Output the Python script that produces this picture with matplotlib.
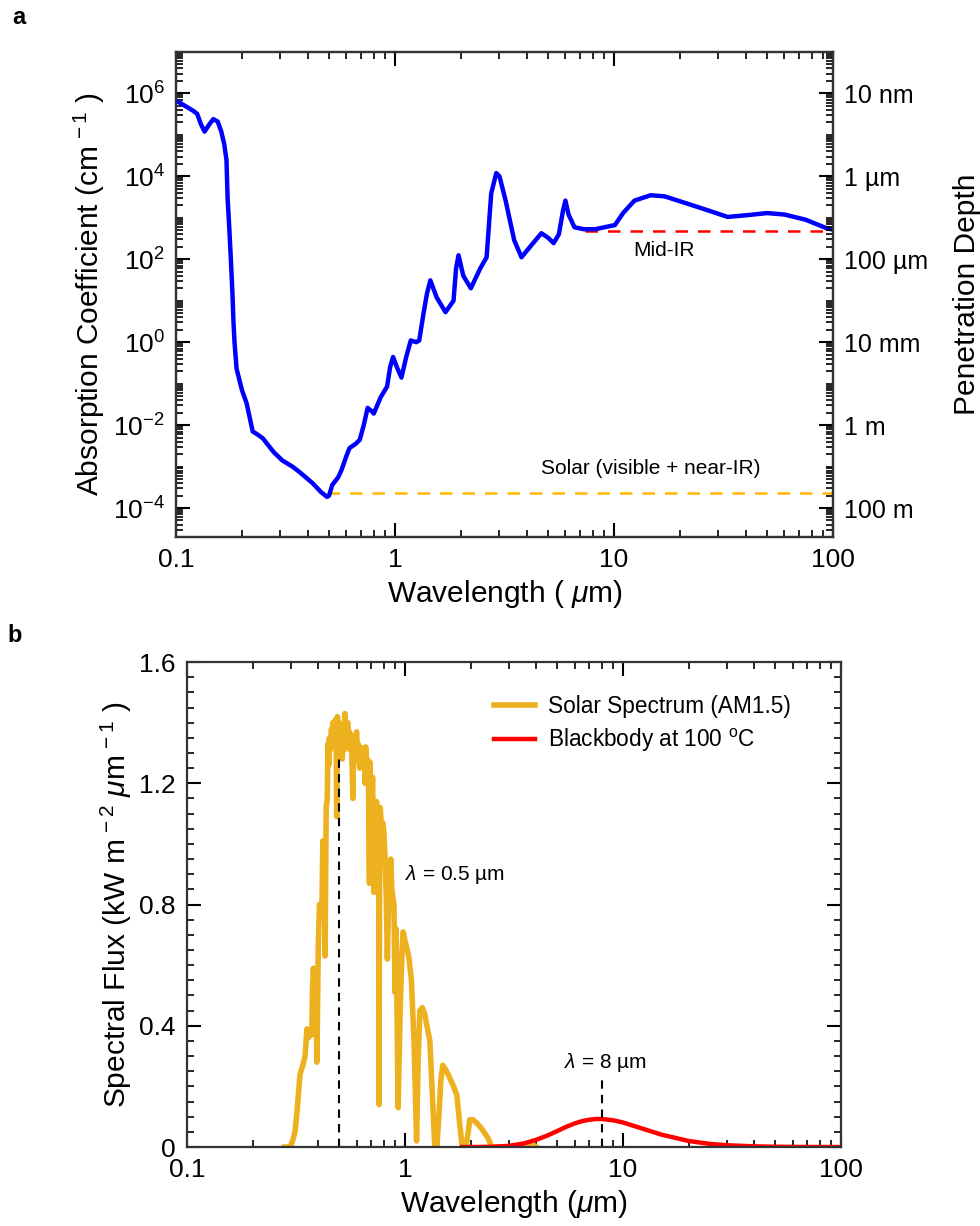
import numpy as np
import matplotlib
matplotlib.use('Agg')
import matplotlib.pyplot as plt
from matplotlib.ticker import LogLocator, MultipleLocator, NullFormatter

plt.rcParams['font.family'] = ['Liberation Sans', 'DejaVu Sans']
plt.rcParams['mathtext.fontset'] = 'custom'
plt.rcParams['mathtext.rm'] = 'Liberation Sans'
plt.rcParams['mathtext.it'] = 'Liberation Sans:italic'
plt.rcParams['axes.linewidth'] = 1.6
plt.rcParams['axes.edgecolor'] = '#333333'

# ---- panel a: absorption coefficient of water ----
abs_wl = [0.100, 0.110, 0.120, 0.125, 0.130, 0.135, 0.142, 0.148, 0.155, 0.161,
          0.166, 0.170, 0.172, 0.175, 0.178, 0.181, 0.183, 0.185, 0.189, 0.200,
          0.210, 0.224, 0.235, 0.249, 0.280, 0.306, 0.340, 0.366, 0.420, 0.460,
          0.490, 0.500, 0.517, 0.550, 0.570, 0.600, 0.620, 0.660, 0.690, 0.720,
          0.750, 0.780, 0.800, 0.860, 0.920, 0.950, 0.980, 1.02, 1.07, 1.12,
          1.18, 1.25, 1.29, 1.35, 1.40, 1.45, 1.55, 1.70, 1.85, 1.90,
          1.95, 2.05, 2.22, 2.45, 2.62, 2.75, 2.90, 3.00, 3.20, 3.50,
          3.78, 4.20, 4.66, 5.00, 5.30, 5.60, 5.85, 6.00, 6.20, 6.60,
          7.30, 8.20, 10.1, 11.0, 12.4, 14.7, 17.0, 21.6, 27.0, 33.0,
          40.0, 50.0, 60.0, 75.0, 93.5, 100.0]
abs_coef = [6.8e5, 5.0e5, 3.8e5, 3.2e5, 1.8e5, 1.2e5, 1.8e5, 2.4e5, 2.1e5, 1.2e5,
            6.0e4, 2.5e4, 3.0e3, 6.0e2, 1.0e2, 15, 3.0, 1.0, 0.23, 0.07,
            0.034, 7e-3, 6e-3, 4.8e-3, 2.2e-3, 1.4e-3, 1.0e-3, 7.4e-4, 4e-4, 2.4e-4,
            1.85e-4, 2.0e-4, 3.6e-4, 5.5e-4, 8.3e-4, 1.8e-3, 2.8e-3, 3.5e-3, 4.4e-3, 1.0e-2,
            2.6e-2, 2.2e-2, 1.9e-2, 4.7e-2, 8.5e-2, 0.25, 0.44, 0.25, 0.14, 0.4,
            1.1, 1.0, 1.1, 5, 15, 31, 12, 5.3, 10, 60,
            125, 40, 20, 60, 112, 3.9e3, 1.2e4, 1.0e4, 2.6e3, 2.9e2,
            112, 220, 425, 330, 245, 400, 1.5e3, 2.6e3, 1.2e3, 590,
            530, 530, 670, 1.3e3, 2.6e3, 3.5e3, 3.3e3, 2.2e3, 1.5e3, 1.05e3,
            1.15e3, 1.3e3, 1.2e3, 900, 560, 520]

solar_band = [0.49, 100]
solar_level = 2.3e-4
midir_band = [7.4, 100]
midir_level = 480

depth_ticks = [1e6, 1e4, 1e2, 1e0, 1e-2, 1e-4]
depth_labels = ['10 nm', '1 µm', '100 µm', '10 mm', '1 m', '100 m']

# ---- panel b: AM1.5 solar spectrum and 100 C blackbody ----
sun_wl = [0.280, 0.297, 0.305, 0.313, 0.320, 0.330, 0.340, 0.348, 0.355, 0.360,
          0.370, 0.374, 0.376, 0.380, 0.385, 0.390, 0.394, 0.397, 0.400, 0.405,
          0.410, 0.416, 0.420, 0.425, 0.430, 0.435, 0.440, 0.443, 0.447, 0.450,
          0.455, 0.460, 0.464, 0.467, 0.471, 0.475, 0.480, 0.484, 0.486, 0.488,
          0.490, 0.495, 0.500, 0.505, 0.510, 0.515, 0.520, 0.525, 0.530, 0.535,
          0.540, 0.547, 0.551, 0.555, 0.560, 0.565, 0.570, 0.577, 0.581, 0.585,
          0.590, 0.600, 0.605, 0.610, 0.615, 0.620, 0.625, 0.630, 0.638, 0.645,
          0.650, 0.656, 0.660, 0.665, 0.672, 0.680, 0.687, 0.690, 0.695, 0.700,
          0.705, 0.710, 0.715, 0.720, 0.725, 0.730, 0.735, 0.740, 0.745, 0.750,
          0.757, 0.760, 0.765, 0.770, 0.780, 0.790, 0.800, 0.810, 0.820, 0.830,
          0.840, 0.860, 0.870, 0.890, 0.900, 0.910, 0.930, 0.950, 0.970, 0.980,
          1.00, 1.04, 1.07, 1.10, 1.13, 1.15, 1.17, 1.20, 1.23, 1.26,
          1.30, 1.33, 1.37, 1.40, 1.43, 1.46, 1.49, 1.55, 1.60, 1.67,
          1.73, 1.78, 1.83, 1.90, 1.95, 1.98, 2.05, 2.13, 2.25, 2.40,
          2.50, 2.70, 3.00, 3.30, 3.50, 3.80, 4.00]
sun_flux = [0.0, 0.0, 0.02, 0.05, 0.12, 0.24, 0.27, 0.30, 0.39, 0.36,
            0.38, 0.37, 0.51, 0.59, 0.50, 0.58, 0.28, 0.45, 0.66, 0.80,
            0.79, 0.80, 1.01, 0.98, 0.63, 1.12, 1.15, 1.33, 1.26, 1.35,
            1.31, 1.38, 1.33, 1.40, 1.34, 1.39, 1.41, 1.30, 1.09, 1.35,
            1.42, 1.36, 1.40, 1.33, 1.37, 1.28, 1.34, 1.31, 1.43, 1.36,
            1.39, 1.40, 1.33, 1.37, 1.31, 1.36, 1.30, 1.15, 1.33, 1.30,
            1.35, 1.37, 1.29, 1.33, 1.27, 1.25, 1.32, 1.28, 1.31, 1.27,
            1.31, 1.20, 1.32, 1.25, 1.28, 1.22, 0.87, 1.27, 1.18, 1.22,
            1.15, 1.22, 1.05, 0.84, 1.10, 1.13, 1.08, 1.14, 1.09, 1.10,
            1.05, 0.14, 0.95, 1.12, 1.05, 1.07, 1.04, 0.95, 0.83, 0.62,
            0.80, 0.95, 0.85, 0.80, 0.51, 0.72, 0.13, 0.45, 0.65, 0.71,
            0.68, 0.63, 0.55, 0.35, 0.02, 0.30, 0.45, 0.46, 0.44, 0.40,
            0.35, 0.20, 0.0, 0.0, 0.10, 0.22, 0.27, 0.25, 0.23, 0.20,
            0.17, 0.08, 0.0, 0.0, 0.05, 0.09, 0.09, 0.08, 0.06, 0.03,
            0.0, 0.0, 0.0, 0.005, 0.01, 0.01, 0.0]

bb_wl = [1.83, 2.0, 2.5, 3.0, 3.5, 4.0, 4.5, 5.0, 5.5, 6.0,
         6.5, 7.0, 7.5, 8.0, 9.0, 10.0, 12.0, 15.0, 20.0, 25.0,
         30.0, 40.0, 50.0, 70.0, 100.0]
bb_flux = [0.0, 0.0001, 0.0008, 0.004, 0.0117, 0.024, 0.038, 0.053, 0.067, 0.078,
           0.0856, 0.090, 0.0926, 0.0926, 0.0883, 0.081, 0.063, 0.041, 0.020, 0.0104,
           0.0059, 0.0023, 0.001, 0.0003, 0.0001]

peak_sun = 0.5
peak_bb = 8.0

fig = plt.figure(figsize=(9.8, 12.26), dpi=100)

# ================= panel a =================
ax1 = fig.add_axes([0.1796, 0.562, 0.6704, 0.3956])
ax1.plot(abs_wl, abs_coef, color='#0000FF', linewidth=3.2, zorder=3)
ax1.plot(solar_band, [solar_level, solar_level], '--', color='#FFB800', linewidth=1.8, dashes=(5, 4))
ax1.plot(midir_band, [midir_level, midir_level], '--', color='#FF0000', linewidth=1.8, dashes=(5, 4))
ax1.set_xscale('log')
ax1.set_yscale('log')
ax1.set_xlim(0.1, 100)
ax1.set_ylim(2e-5, 1e7)
ax1.set_xticks([0.1, 1, 10, 100])
ax1.set_xticklabels(['0.1', '1', '10', '100'])
ax1.xaxis.set_minor_locator(LogLocator(base=10, subs=np.arange(2, 10), numticks=20))
ax1.xaxis.set_minor_formatter(NullFormatter())
ax1.set_yticks([1e-4, 1e-2, 1e0, 1e2, 1e4, 1e6])
ax1.yaxis.set_minor_locator(LogLocator(base=10, subs=np.arange(1, 10), numticks=30))
ax1.yaxis.set_minor_formatter(NullFormatter())
ax1.tick_params(which='major', direction='in', length=10, width=1.5, labelsize=19, top=True, pad=8)
ax1.tick_params(which='minor', direction='in', length=5, width=1.2, top=True)
ax1.set_xlabel('Wavelength ( $\\mu$m)', fontsize=21.5)
ax1.set_ylabel('Absorption Coefficient (cm$^{\\,-1}$ )', fontsize=21.5)
ax1.text(14.7, 9.2e-4, 'Solar (visible + near-IR)', fontsize=15, ha='center', va='center')
ax1.text(17, 165, 'Mid-IR', fontsize=15, ha='center', va='center')

ax1r = ax1.twinx()
ax1r.set_yscale('log')
ax1r.set_ylim(ax1.get_ylim())
ax1r.set_yticks(depth_ticks)
ax1r.set_yticklabels(depth_labels)
ax1r.yaxis.set_minor_locator(LogLocator(base=10, subs=np.arange(1, 10), numticks=30))
ax1r.yaxis.set_minor_formatter(NullFormatter())
ax1r.tick_params(which='major', direction='in', length=10, width=1.5, labelsize=18, pad=8)
ax1r.tick_params(which='minor', direction='in', length=5, width=1.2)
ax1r.set_ylabel('Penetration Depth', fontsize=21.5, labelpad=18)

# ================= panel b =================
ax2 = fig.add_axes([0.1908, 0.0644, 0.6674, 0.3956])
ax2.plot(sun_wl, sun_flux, color='#EDB120', linewidth=4.0, label='Solar Spectrum (AM1.5)')
ax2.plot(bb_wl, bb_flux, color='#FF0000', linewidth=3.2, label='Blackbody at 100 $^{\\mathrm{o}}$C')
ax2.plot([peak_sun, peak_sun], [0, 1.29], '--', color='black', linewidth=1.5, dashes=(4, 3))
ax2.plot([peak_bb, peak_bb], [0, 0.22], '--', color='black', linewidth=1.5, dashes=(4, 3))
ax2.text(1.0, 0.90, '$\\lambda$ = 0.5 µm', fontsize=15, ha='left', va='center')
ax2.text(8.3, 0.28, '$\\lambda$ = 8 µm', fontsize=15, ha='center', va='center')
ax2.set_xscale('log')
ax2.set_xlim(0.1, 100)
ax2.set_ylim(0, 1.6)
ax2.set_xticks([0.1, 1, 10, 100])
ax2.set_xticklabels(['0.1', '1', '10', '100'])
ax2.xaxis.set_minor_locator(LogLocator(base=10, subs=np.arange(2, 10), numticks=20))
ax2.xaxis.set_minor_formatter(NullFormatter())
ax2.set_yticks([0, 0.4, 0.8, 1.2, 1.6])
ax2.set_yticklabels(['0', '0.4', '0.8', '1.2', '1.6'])
ax2.yaxis.set_minor_locator(MultipleLocator(0.05))
ax2.tick_params(which='major', direction='in', length=10, width=1.5, labelsize=19,
                top=True, right=True, pad=8)
ax2.tick_params(which='minor', direction='in', length=5, width=1.2, top=True, right=True)
ax2.set_xlabel('Wavelength ($\\mu$m)', fontsize=21.5)
ax2.set_ylabel('Spectral Flux (kW m$^{\\,-2}$ $\\mu$m$^{\\,-1}$ )', fontsize=21.5)
ax2.legend(loc='upper right', bbox_to_anchor=(0.955, 0.975), frameon=False, fontsize=16.3,
           handlelength=1.8, handletextpad=0.6, labelspacing=0.4)

fig.text(0.012, 0.986, 'a', fontsize=17, fontweight='bold', va='center')
fig.text(0.008, 0.482, 'b', fontsize=17, fontweight='bold', va='center')

fig.savefig('out.png', dpi=100)
